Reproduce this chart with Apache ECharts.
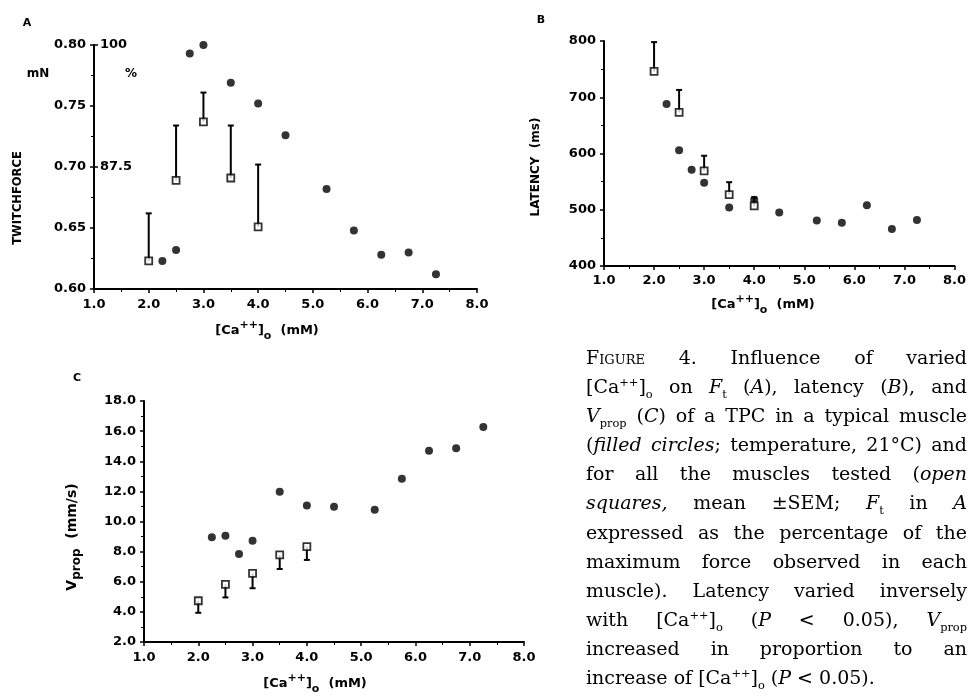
<!DOCTYPE html>
<html>
<head>
<meta charset="utf-8">
<script src="https://cdn.jsdelivr.net/npm/echarts@6/dist/echarts.min.js"></script>
<style>
  html, body { margin: 0; padding: 0; background: #fff; }
  #main { width: 969px; height: 696px; }
  #caption {
    position: absolute; left: 586px; top: 343px; width: 381px;
    font-family: "DejaVu Serif", "Liberation Serif", serif;
    font-size: 19px; line-height: 29.1px; color: #000;
  }
  #caption div { text-align: justify; text-align-last: justify; white-space: nowrap; }
  #caption div.last { text-align-last: left; }
  #caption sup, #caption sub { font-size: 0.6em; line-height: 0; }
  .sc { font-variant: small-caps; }
</style>
</head>
<body>
<div id="main"></div>
<div id="caption">
  <div><span class="sc">Figure</span> 4. Influence of varied</div>
  <div>[Ca<sup>++</sup>]<sub>o</sub> on <i>F</i><sub>t</sub> (<i>A</i>), latency (<i>B</i>), and</div>
  <div><i>V</i><sub>prop</sub> (<i>C</i>) of a TPC in a typical muscle</div>
  <div>(<i>filled circles</i>; temperature, 21°C) and</div>
  <div>for all the muscles tested (<i>open</i></div>
  <div><i>squares,</i> mean ±SEM; <i>F</i><sub>t</sub> in <i>A</i></div>
  <div>expressed as the percentage of the</div>
  <div>maximum force observed in each</div>
  <div>muscle). Latency varied inversely</div>
  <div>with [Ca<sup>++</sup>]<sub>o</sub> (<i>P</i> &lt; 0.05), <i>V</i><sub>prop</sub></div>
  <div>increased in proportion to an</div>
  <div class="last">increase of [Ca<sup>++</sup>]<sub>o</sub> (<i>P</i> &lt; 0.05).</div>
</div>
<script>
// typical muscle (filled circles), [Ca++]o in mM
const circleCa = [2.25, 2.5, 2.75, 3.0, 3.5, 4.0, 4.5, 5.25, 5.75, 6.25, 6.75, 7.25];
// all muscles (open squares, mean +/- SEM)
const squareCa = [2.0, 2.5, 3.0, 3.5, 4.0];

// A: twitch force (mN)
const forceCircles = [0.623, 0.632, 0.793, 0.800, 0.769, 0.752, 0.726, 0.682, 0.648, 0.628, 0.630, 0.612];
const forceMean = [0.623, 0.689, 0.737, 0.691, 0.651];
const forceSemEnd = [0.662, 0.734, 0.761, 0.734, 0.702];

// B: latency (ms)
const latencyCircles = [688, 606, 571, 548, 504, 518, 495, 481, 477, 508, 466, 482];
const latencyMean = [746, 673, 569, 527, 507];
const latencySemEnd = [798, 713, 596, 549, 522];

// C: Vprop (mm/s)
const vpropCircles = [8.95, 9.06, 7.85, 8.73, 11.97, 11.07, 10.98, 10.78, 12.84, 14.69, 14.87, 16.28];
const vpropMean = [4.74, 5.82, 6.55, 7.78, 8.33];
const vpropSemEnd = [3.94, 4.96, 5.57, 6.85, 7.45];

// tick labels
const caTicks = ['1.0', '2.0', '3.0', '4.0', '5.0', '6.0', '7.0', '8.0'];
const percentTicks = {'100': '100', '87.5': '87.5'};

const chart = echarts.init(document.getElementById('main'));
const FONT = 'DejaVu Sans';
const black = '#000';

function pairs(xs, ys) {
  return xs.map(function (x, i) { return [x, ys[i]]; });
}

function xAxisFor(gridIndex, margin) {
  return {
    type: 'value', gridIndex: gridIndex, min: 1, max: 8, interval: 1,
    axisLine: { lineStyle: { color: black, width: 2 } },
    axisTick: { length: 4, lineStyle: { width: 1.5 } },
    minorTick: { show: true, splitNumber: 2, length: 3, lineStyle: { color: black } },
    splitLine: { show: false },
    axisLabel: {
      color: black, fontFamily: FONT, fontWeight: 'bold', fontSize: 13, margin: margin,
      formatter: function (v) { return caTicks[Math.round(v) - 1]; }
    }
  };
}

function yAxisFor(gridIndex, min, max, interval, digits) {
  return {
    type: 'value', gridIndex: gridIndex, min: min, max: max, interval: interval,
    axisLine: { show: true, lineStyle: { color: black, width: 2 } },
    axisTick: { show: true, length: 4, lineStyle: { width: 1.5 } },
    minorTick: { show: true, splitNumber: 2, length: 3, lineStyle: { color: black } },
    splitLine: { show: false },
    axisLabel: {
      color: black, fontFamily: FONT, fontWeight: 'bold', fontSize: 13, margin: 8,
      formatter: function (v) { return v.toFixed(digits); }
    }
  };
}

function circles(xi, yi, ys) {
  return {
    type: 'scatter', xAxisIndex: xi, yAxisIndex: yi, symbol: 'circle', symbolSize: 8,
    itemStyle: { color: black }, data: pairs(circleCa, ys), z: 3, silent: true
  };
}

function squares(xi, yi, ys) {
  return {
    type: 'scatter', xAxisIndex: xi, yAxisIndex: yi, symbol: 'rect', symbolSize: 7,
    itemStyle: { color: '#fff', borderColor: black, borderWidth: 1.8 },
    data: pairs(squareCa, ys), z: 4, silent: true
  };
}

function semBars(xi, yi, means, ends) {
  return {
    type: 'custom', xAxisIndex: xi, yAxisIndex: yi, z: 2, silent: true,
    data: squareCa.map(function (x, i) { return [x, means[i], ends[i]]; }),
    renderItem: function (params, api) {
      const p0 = api.coord([api.value(0), api.value(1)]);
      const p1 = api.coord([api.value(0), api.value(2)]);
      return {
        type: 'group',
        children: [
          { type: 'line', shape: { x1: p0[0], y1: p0[1], x2: p1[0], y2: p1[1] },
            style: { stroke: black, lineWidth: 2 } },
          { type: 'line', shape: { x1: p1[0] - 3, y1: p1[1], x2: p1[0] + 3, y2: p1[1] },
            style: { stroke: black, lineWidth: 2 } }
        ]
      };
    }
  };
}

const richCa = {
  b: { fontFamily: FONT, fontWeight: 'bold', fontSize: 13, color: black, lineHeight: 22, verticalAlign: 'middle' },
  sup: { fontFamily: FONT, fontWeight: 'bold', fontSize: 11, color: black, lineHeight: 22, verticalAlign: 'top' },
  sub: { fontFamily: FONT, fontWeight: 'bold', fontSize: 11, color: black, lineHeight: 22, verticalAlign: 'bottom' }
};
const caTitle = '{b|[Ca}{sup|++}{b|]}{sub|o}{b|  (mM)}';

function text(x, y, str, opts) {
  return Object.assign({
    type: 'text', x: x, y: y, silent: true,
    style: {
      text: str, fill: black, fontFamily: FONT, fontWeight: 'bold', fontSize: 12,
      align: 'center', verticalAlign: 'middle'
    }
  }, opts || {});
}

function letter(x, y, str) {
  return text(x, y, str, { style: { text: str, fill: black, fontFamily: FONT, fontWeight: 'bold', fontSize: 11, align: 'center', verticalAlign: 'middle' } });
}

function richText(x, y, str) {
  return {
    type: 'text', x: x, y: y, silent: true,
    style: { text: str, rich: richCa, align: 'center', verticalAlign: 'middle' }
  };
}

const option = {
  animation: false,
  grid: [
    { left: 94, top: 45, width: 383, height: 244 },
    { left: 604, top: 41, width: 355, height: 225 },
    { left: 144, top: 401, width: 380, height: 241 }
  ],
  xAxis: [xAxisFor(0, 9), xAxisFor(1, 8), xAxisFor(2, 9)],
  yAxis: [
    yAxisFor(0, 0.6, 0.8, 0.05, 2),
    {
      // percent scale drawn on the inner side of the A axis
      type: 'value', gridIndex: 0, min: 75, max: 100, interval: 12.5, position: 'left',
      axisLine: { show: false },
      axisTick: { show: true, inside: true, length: 4, lineStyle: { color: black, width: 1.5 } },
      splitLine: { show: false },
      axisLabel: {
        inside: true, margin: 6, color: black, fontFamily: FONT, fontWeight: 'bold', fontSize: 13,
        formatter: function (v) { return percentTicks[String(v)] || ''; }
      }
    },
    yAxisFor(1, 400, 800, 100, 0),
    yAxisFor(2, 2, 18, 2, 1)
  ],
  series: [
    semBars(0, 0, forceMean, forceSemEnd),
    squares(0, 0, forceMean),
    circles(0, 0, forceCircles),
    semBars(1, 2, latencyMean, latencySemEnd),
    squares(1, 2, latencyMean),
    circles(1, 2, latencyCircles),
    semBars(2, 3, vpropMean, vpropSemEnd),
    squares(2, 3, vpropMean),
    circles(2, 3, vpropCircles)
  ],
  graphic: [
    letter(27, 23, 'A'),
    letter(541, 20, 'B'),
    letter(77, 378, 'C'),
    text(38, 74, 'mN'),
    text(131, 74, '%'),
    text(18, 198, 'TWITCHFORCE', { rotation: Math.PI / 2, style: { text: 'TWITCHFORCE', fill: black, fontFamily: FONT, fontWeight: 'bold', fontSize: 11.5, align: 'center', verticalAlign: 'middle' } }),
    text(536, 167, 'LATENCY  (ms)', { rotation: Math.PI / 2 }),
    {
      type: 'text', x: 72, y: 537, rotation: Math.PI / 2, silent: true,
      style: {
        text: '{b|V}{sub|prop}{b|  (mm/s)}', align: 'center', verticalAlign: 'middle',
        rich: {
          b: { fontFamily: FONT, fontWeight: 'bold', fontSize: 14, color: black, lineHeight: 22, verticalAlign: 'middle' },
          sub: { fontFamily: FONT, fontWeight: 'bold', fontSize: 12, color: black, lineHeight: 22, verticalAlign: 'bottom' }
        }
      }
    },
    richText(267, 331, caTitle),
    richText(763, 305, caTitle),
    richText(315, 684, caTitle)
  ]
};

chart.setOption(option);
</script>
</body>
</html>
